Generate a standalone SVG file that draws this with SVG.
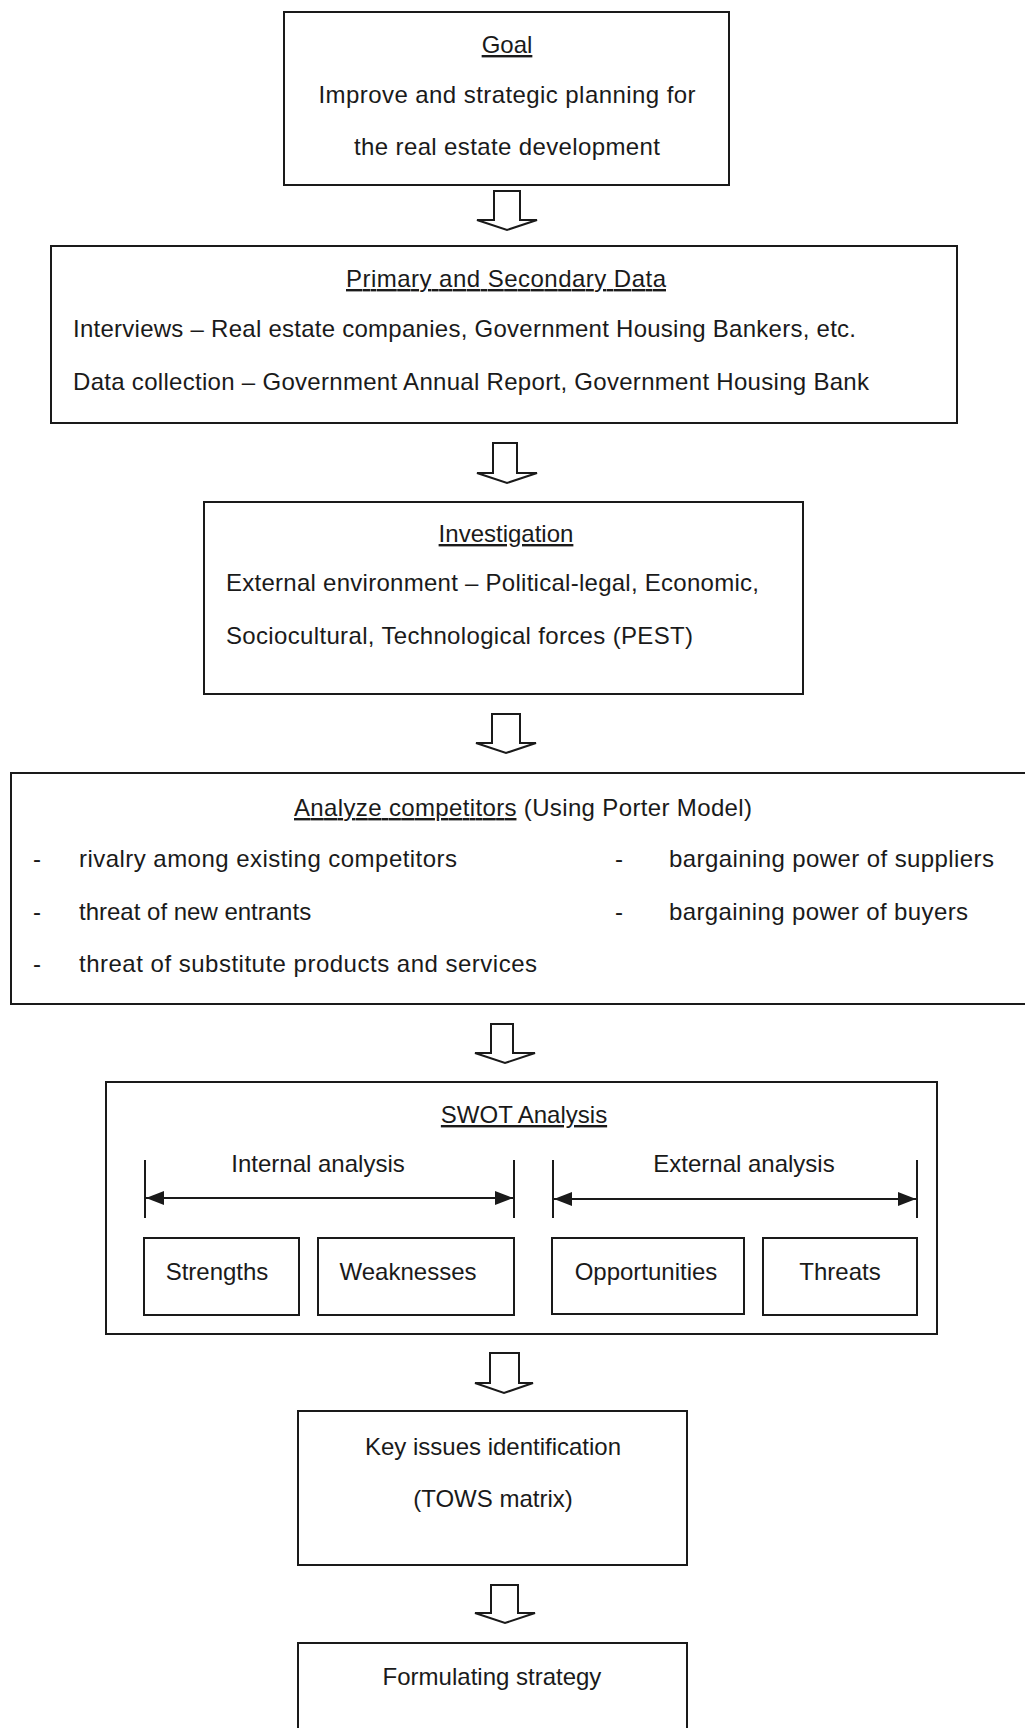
<svg xmlns="http://www.w3.org/2000/svg" width="1025" height="1728" viewBox="0 0 1025 1728">
<style>
  .box{fill:#fff;stroke:#1a1a1a;stroke-width:2}
  .t{font-family:"Liberation Sans",Arial,sans-serif;font-size:24px;fill:#1a1a1a}
  .c{text-anchor:middle}
  .u{text-decoration:underline}
  .arr{fill:#fff;stroke:#1a1a1a;stroke-width:2;stroke-linejoin:miter}
  .dim{stroke:#1a1a1a;stroke-width:2;fill:none}
</style>
<defs>
  <marker id="ah" viewBox="0 0 18 14" refX="18" refY="7" markerWidth="18" markerHeight="14" markerUnits="userSpaceOnUse" orient="auto-start-reverse">
    <path d="M0,0 L18,7 L0,14 Z" fill="#1a1a1a"/>
  </marker>
</defs>
<rect width="1025" height="1728" fill="#fff"/>

<g id="connectors">
  <path class="arr" d="M494,191 V220 H477 L507,230 L537,220 H520 V191 Z"/>
  <path class="arr" d="M493,443 V473 H477 L507,483 L537,473 H517 V443 Z"/>
  <path class="arr" d="M492,714 V743 H476 L506,753 L536,743 H520 V714 Z"/>
  <path class="arr" d="M491,1024 V1053 H475 L505,1063 L535,1053 H513 V1024 Z"/>
  <path class="arr" d="M490,1353 V1383 H475 L504,1393 L533,1383 H519 V1353 Z"/>
  <path class="arr" d="M491,1585 V1613 H475 L505,1623 L535,1613 H518 V1585 Z"/>
</g>

<g id="goal">
  <rect class="box" x="284" y="12" width="445" height="173"/>
  <text class="t c u" x="507" y="53">Goal</text>
  <text class="t c" x="507" y="103" textLength="377" lengthAdjust="spacing">Improve and strategic planning for</text>
  <text class="t c" x="507" y="155" textLength="306" lengthAdjust="spacing">the real estate development</text>
</g>

<g id="data">
  <rect class="box" x="51" y="246" width="906" height="177"/>
  <text class="t c u" x="506" y="287" textLength="320" lengthAdjust="spacing">Primary and Secondary Data</text>
  <text class="t" x="73" y="337" textLength="783" lengthAdjust="spacing">Interviews – Real estate companies, Government Housing Bankers, etc.</text>
  <text class="t" x="73" y="390" textLength="796" lengthAdjust="spacing">Data collection – Government Annual Report, Government Housing Bank</text>
</g>

<g id="investigation">
  <rect class="box" x="204" y="502" width="599" height="192"/>
  <text class="t c u" x="506" y="542">Investigation</text>
  <text class="t" x="226" y="591" textLength="533" lengthAdjust="spacing">External environment – Political-legal, Economic,</text>
  <text class="t" x="226" y="644" textLength="467" lengthAdjust="spacing">Sociocultural, Technological forces (PEST)</text>
</g>

<g id="competitors">
  <rect class="box" x="11" y="773" width="1030" height="231"/>
  <text class="t" x="294" y="816" textLength="458" lengthAdjust="spacing"><tspan class="u">Analyze competitors</tspan> (Using Porter Model)</text>
  <text class="t" x="33" y="867">-</text>
  <text class="t" x="79" y="867" textLength="378" lengthAdjust="spacing">rivalry among existing competitors</text>
  <text class="t" x="33" y="920">-</text>
  <text class="t" x="79" y="920">threat of new entrants</text>
  <text class="t" x="33" y="972">-</text>
  <text class="t" x="79" y="972" textLength="458" lengthAdjust="spacing">threat of substitute products and services</text>
  <text class="t" x="615" y="867">-</text>
  <text class="t" x="669" y="867" textLength="325" lengthAdjust="spacing">bargaining power of suppliers</text>
  <text class="t" x="615" y="920">-</text>
  <text class="t" x="669" y="920" textLength="299" lengthAdjust="spacing">bargaining power of buyers</text>
</g>

<g id="swot">
  <rect class="box" x="106" y="1082" width="831" height="252"/>
  <text class="t c u" x="524" y="1123">SWOT Analysis</text>
  <text class="t c" x="318" y="1172">Internal analysis</text>
  <text class="t c" x="744" y="1172">External analysis</text>
  <line class="dim" x1="145" y1="1160" x2="145" y2="1218"/>
  <line class="dim" x1="514" y1="1160" x2="514" y2="1218"/>
  <line class="dim" x1="146" y1="1198" x2="513" y2="1198" marker-start="url(#ah)" marker-end="url(#ah)"/>
  <line class="dim" x1="553" y1="1160" x2="553" y2="1218"/>
  <line class="dim" x1="917" y1="1160" x2="917" y2="1218"/>
  <line class="dim" x1="554" y1="1199" x2="916" y2="1199" marker-start="url(#ah)" marker-end="url(#ah)"/>
</g>
<g id="strengths">
  <rect class="box" x="144" y="1238" width="155" height="77"/>
  <text class="t c" x="217" y="1280">Strengths</text>
</g>
<g id="weaknesses">
  <rect class="box" x="318" y="1238" width="196" height="77"/>
  <text class="t c" x="408" y="1280">Weaknesses</text>
</g>
<g id="opportunities">
  <rect class="box" x="552" y="1238" width="192" height="76"/>
  <text class="t c" x="646" y="1280">Opportunities</text>
</g>
<g id="threats">
  <rect class="box" x="763" y="1238" width="154" height="77"/>
  <text class="t c" x="840" y="1280">Threats</text>
</g>

<g id="key-issues">
  <rect class="box" x="298" y="1411" width="389" height="154"/>
  <text class="t c" x="493" y="1455">Key issues identification</text>
  <text class="t c" x="493" y="1507">(TOWS matrix)</text>
</g>

<g id="formulating">
  <rect class="box" x="298" y="1643" width="389" height="100"/>
  <text class="t c" x="492" y="1685">Formulating strategy</text>
</g>
</svg>
